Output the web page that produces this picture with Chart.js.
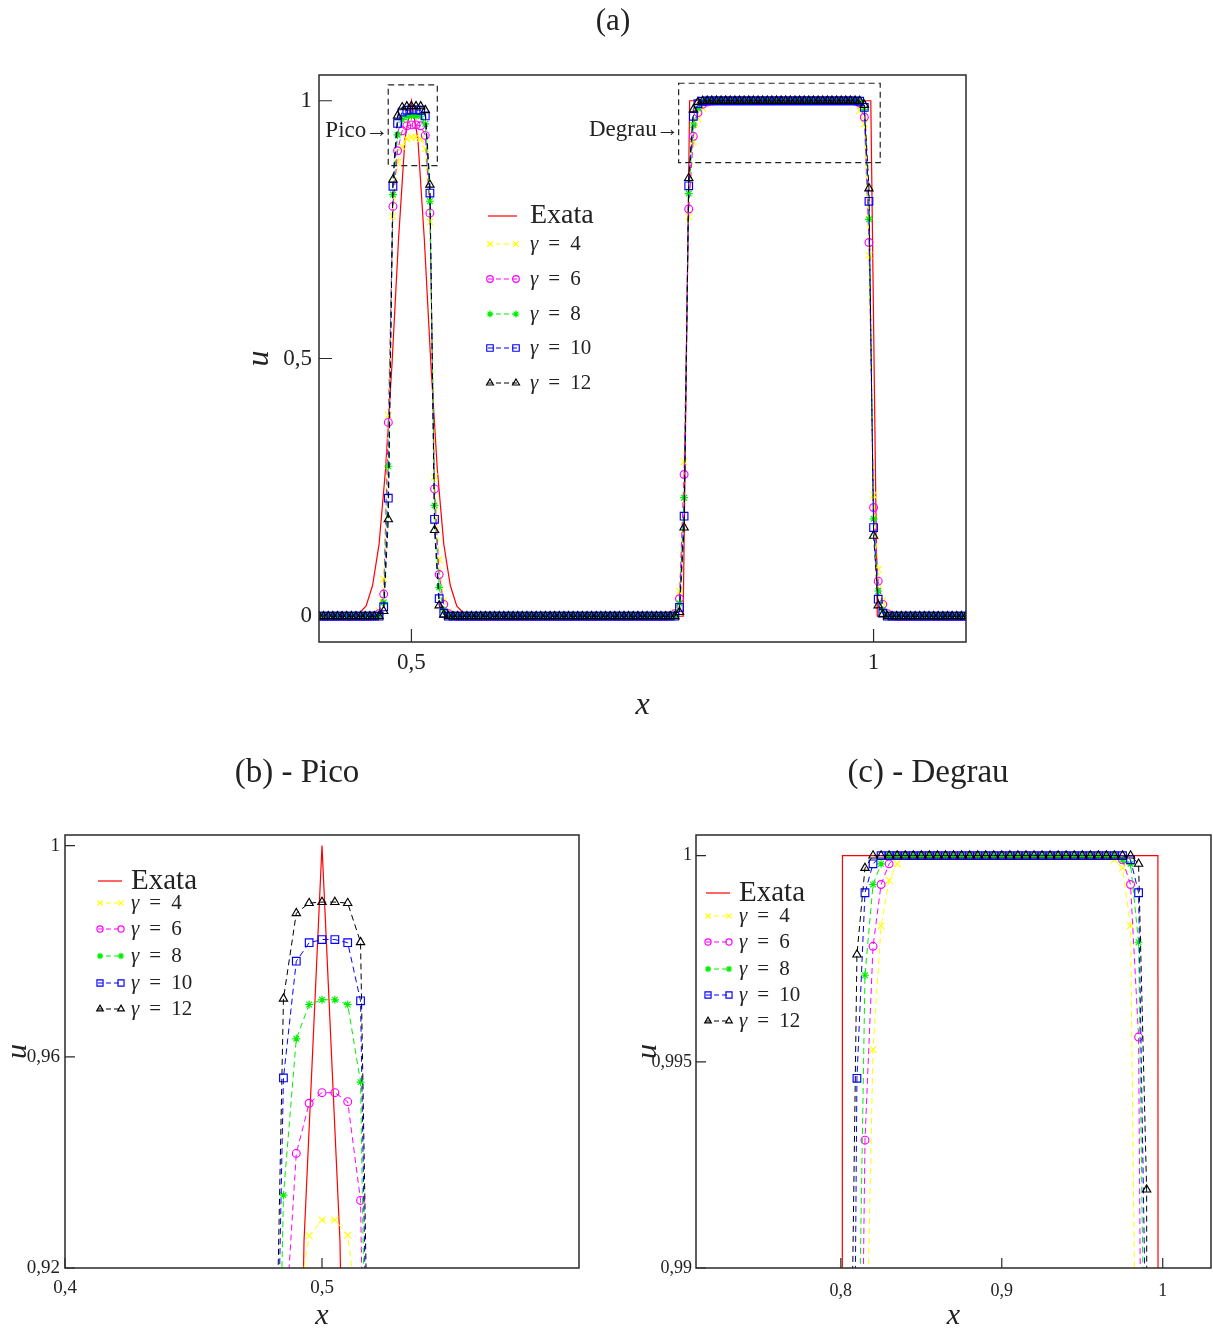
<!DOCTYPE html>
<html>
<head>
<meta charset="utf-8">
<title>Pico e Degrau</title>
<script src="https://cdn.jsdelivr.net/npm/chart.js@4.4.0/dist/chart.umd.min.js"></script>
<style>
  html, body { margin: 0; padding: 0; background: #ffffff; }
  body { width: 1213px; height: 1331px; position: relative; overflow: hidden; }
  canvas { position: absolute; }
</style>
</head>
<body>
<canvas id="chartA" width="1213" height="740" style="left:0px;top:0px"></canvas>
<canvas id="chartB" width="600" height="601" style="left:0px;top:730px"></canvas>
<canvas id="chartC" width="626" height="601" style="left:607px;top:730px"></canvas>
<script>
// ---------------- data ----------------
// numerical grid (dx = 0.005)
const gridX = [
  0.400, 0.405, 0.410, 0.415, 0.420, 0.425, 0.430, 0.435, 0.440, 0.445,
  0.450, 0.455, 0.460, 0.465, 0.470, 0.475, 0.480, 0.485, 0.490, 0.495,
  0.500, 0.505, 0.510, 0.515, 0.520, 0.525, 0.530, 0.535, 0.540, 0.545,
  0.550, 0.555, 0.560, 0.565, 0.570, 0.575, 0.580, 0.585, 0.590, 0.595,
  0.600, 0.605, 0.610, 0.615, 0.620, 0.625, 0.630, 0.635, 0.640, 0.645,
  0.650, 0.655, 0.660, 0.665, 0.670, 0.675, 0.680, 0.685, 0.690, 0.695,
  0.700, 0.705, 0.710, 0.715, 0.720, 0.725, 0.730, 0.735, 0.740, 0.745,
  0.750, 0.755, 0.760, 0.765, 0.770, 0.775, 0.780, 0.785, 0.790, 0.795,
  0.800, 0.805, 0.810, 0.815, 0.820, 0.825, 0.830, 0.835, 0.840, 0.845,
  0.850, 0.855, 0.860, 0.865, 0.870, 0.875, 0.880, 0.885, 0.890, 0.895,
  0.900, 0.905, 0.910, 0.915, 0.920, 0.925, 0.930, 0.935, 0.940, 0.945,
  0.950, 0.955, 0.960, 0.965, 0.970, 0.975, 0.980, 0.985, 0.990, 0.995,
  1.000, 1.005, 1.010, 1.015, 1.020, 1.025, 1.030, 1.035, 1.040, 1.045,
  1.050, 1.055, 1.060, 1.065, 1.070, 1.075, 1.080, 1.085, 1.090, 1.095,
  1.100
];

const gamma4 = [
  0, 0, 0, 0, 0, 0, 0, 0, 0, 0,
  0, 0, 0.002, 0.010, 0.072, 0.390, 0.776, 0.880, 0.911, 0.9261,
  0.9291, 0.9291, 0.9262, 0.907, 0.765, 0.270, 0.110, 0.030, 0.008, 0.002,
  0, 0, 0, 0, 0, 0, 0, 0, 0, 0,
  0, 0, 0, 0, 0, 0, 0, 0, 0, 0,
  0, 0, 0, 0, 0, 0, 0, 0, 0, 0,
  0, 0, 0, 0, 0, 0, 0, 0, 0, 0,
  0, 0, 0, 0, 0, 0, 0.002, 0.008, 0.049, 0.300,
  0.775, 0.920, 0.965, 0.986, 0.9953, 0.9983, 0.9994, 0.9998, 1, 1,
  1, 1, 1, 1, 1, 1, 1, 1, 1, 1,
  1, 1, 1, 1, 1, 1, 1, 1, 1, 1,
  1, 1, 1, 1, 0.9999, 0.9997, 0.9983, 0.981, 0.955, 0.700,
  0.235, 0.091, 0.030, 0.008, 0.002, 0, 0, 0, 0, 0,
  0, 0, 0, 0, 0, 0, 0, 0, 0, 0,
  0
];

const gamma6 = [
  0, 0, 0, 0, 0, 0, 0, 0, 0, 0,
  0, 0, 0.001, 0.005, 0.043, 0.376, 0.795, 0.903, 0.9417, 0.9512,
  0.9532, 0.9532, 0.9515, 0.9328, 0.782, 0.247, 0.081, 0.023, 0.005, 0.001,
  0, 0, 0, 0, 0, 0, 0, 0, 0, 0,
  0, 0, 0, 0, 0, 0, 0, 0, 0, 0,
  0, 0, 0, 0, 0, 0, 0, 0, 0, 0,
  0, 0, 0, 0, 0, 0, 0, 0, 0, 0,
  0, 0, 0, 0, 0, 0, 0.001, 0.005, 0.034, 0.275,
  0.790, 0.931, 0.977, 0.9931, 0.9978, 0.9993, 0.9998, 1, 1, 1,
  1, 1, 1, 1, 1, 1, 1, 1, 1, 1,
  1, 1, 1, 1, 1, 1, 1, 1, 1, 1,
  1, 1, 1, 1, 1, 0.9999, 0.9993, 0.9956, 0.968, 0.725,
  0.211, 0.068, 0.023, 0.005, 0.001, 0, 0, 0, 0, 0,
  0, 0, 0, 0, 0, 0, 0, 0, 0, 0,
  0
];

const gamma8 = [
  0, 0, 0, 0, 0, 0, 0, 0, 0, 0,
  0, 0, 0, 0.002, 0.027, 0.291, 0.818, 0.9338, 0.9634, 0.9699,
  0.9708, 0.9708, 0.9699, 0.9552, 0.805, 0.215, 0.056, 0.012, 0.002, 0,
  0, 0, 0, 0, 0, 0, 0, 0, 0, 0,
  0, 0, 0, 0, 0, 0, 0, 0, 0, 0,
  0, 0, 0, 0, 0, 0, 0, 0, 0, 0,
  0, 0, 0, 0, 0, 0, 0, 0, 0, 0,
  0, 0, 0, 0, 0, 0, 0, 0.002, 0.025, 0.230,
  0.820, 0.953, 0.985, 0.9971, 0.9993, 0.9998, 1, 1, 1, 1,
  1, 1, 1, 1, 1, 1, 1, 1, 1, 1,
  1, 1, 1, 1, 1, 1, 1, 1, 1, 1,
  1, 1, 1, 1, 1, 0.9999, 0.9998, 0.9979, 0.983, 0.770,
  0.189, 0.049, 0.012, 0.002, 0, 0, 0, 0, 0, 0,
  0, 0, 0, 0, 0, 0, 0, 0, 0, 0,
  0
];

const gamma10 = [
  0, 0, 0, 0, 0, 0, 0, 0, 0, 0,
  0, 0, 0, 0, 0.018, 0.229, 0.834, 0.956, 0.9781, 0.9816,
  0.9822, 0.9822, 0.9816, 0.9706, 0.821, 0.188, 0.034, 0.006, 0, 0,
  0, 0, 0, 0, 0, 0, 0, 0, 0, 0,
  0, 0, 0, 0, 0, 0, 0, 0, 0, 0,
  0, 0, 0, 0, 0, 0, 0, 0, 0, 0,
  0, 0, 0, 0, 0, 0, 0, 0, 0, 0,
  0, 0, 0, 0, 0, 0, 0, 0, 0.017, 0.194,
  0.835, 0.970, 0.9946, 0.9991, 0.9998, 1, 1, 1, 1, 1,
  1, 1, 1, 1, 1, 1, 1, 1, 1, 1,
  1, 1, 1, 1, 1, 1, 1, 1, 1, 1,
  1, 1, 1, 1, 1, 1, 0.9999, 0.9991, 0.987, 0.805,
  0.172, 0.033, 0.006, 0, 0, 0, 0, 0, 0, 0,
  0, 0, 0, 0, 0, 0, 0, 0, 0, 0,
  0
];

const gamma12 = [
  0, 0, 0, 0, 0, 0, 0, 0, 0, 0,
  0, 0, 0, 0, 0.010, 0.188, 0.847, 0.971, 0.9872, 0.9891,
  0.9893, 0.9893, 0.9891, 0.9817, 0.837, 0.167, 0.021, 0.003, 0, 0,
  0, 0, 0, 0, 0, 0, 0, 0, 0, 0,
  0, 0, 0, 0, 0, 0, 0, 0, 0, 0,
  0, 0, 0, 0, 0, 0, 0, 0, 0, 0,
  0, 0, 0, 0, 0, 0, 0, 0, 0, 0,
  0, 0, 0, 0, 0, 0, 0, 0, 0.008, 0.172,
  0.850, 0.983, 0.9976, 0.9997, 1, 1, 1, 1, 1, 1,
  1, 1, 1, 1, 1, 1, 1, 1, 1, 1,
  1, 1, 1, 1, 1, 1, 1, 1, 1, 1,
  1, 1, 1, 1, 1, 1, 1, 0.9998, 0.9919, 0.830,
  0.156, 0.021, 0.004, 0, 0, 0, 0, 0, 0, 0,
  0, 0, 0, 0, 0, 0, 0, 0, 0, 0,
  0
];

// exact solution, sampled on its own grid (dx = 0.007)
const exataX = [
  0.402, 0.409, 0.416, 0.423, 0.430, 0.437, 0.444, 0.451, 0.458, 0.465,
  0.472, 0.479, 0.486, 0.493, 0.500, 0.507, 0.514, 0.521, 0.528, 0.535,
  0.542, 0.549, 0.556, 0.563, 0.570, 0.577, 0.584, 0.591, 0.598, 0.605,
  0.612, 0.619, 0.626, 0.633, 0.640, 0.647, 0.654, 0.661, 0.668, 0.675,
  0.682, 0.689, 0.696, 0.703, 0.710, 0.717, 0.724, 0.731, 0.738, 0.745,
  0.752, 0.759, 0.766, 0.773, 0.780, 0.787, 0.794, 0.801, 0.808, 0.815,
  0.822, 0.829, 0.836, 0.843, 0.850, 0.857, 0.864, 0.871, 0.878, 0.885,
  0.892, 0.899, 0.906, 0.913, 0.920, 0.927, 0.934, 0.941, 0.948, 0.955,
  0.962, 0.969, 0.976, 0.983, 0.990, 0.997, 1.004, 1.011, 1.018, 1.025,
  1.032, 1.039, 1.046, 1.053, 1.060, 1.067, 1.074, 1.081, 1.088, 1.095
];
const exataU = [
  0, 0, 0, 0, 0, 0.002, 0.007, 0.020, 0.060, 0.140,
  0.285, 0.490, 0.730, 0.925, 1, 0.925, 0.730, 0.490, 0.285, 0.140,
  0.060, 0.020, 0.007, 0.002, 0, 0, 0, 0, 0, 0,
  0, 0, 0, 0, 0, 0, 0, 0, 0, 0,
  0, 0, 0, 0, 0, 0, 0, 0, 0, 0,
  0, 0, 0, 0, 0, 0, 0, 1, 1, 1,
  1, 1, 1, 1, 1, 1, 1, 1, 1, 1,
  1, 1, 1, 1, 1, 1, 1, 1, 1, 1,
  1, 1, 1, 1, 1, 1, 0, 0, 0, 0,
  0, 0, 0, 0, 0, 0, 0, 0, 0, 0
];

const seriesLabels = ['Exata', 'γ = 4', 'γ = 6', 'γ = 8', 'γ = 10', 'γ = 12'];

// axis ticks of each panel
const ticksAx = [0.5, 1];
const ticksAy = [0, 0.5, 1];
const ticksBx = [0.4, 0.5];
const ticksBy = [0.92, 0.96, 1];
const ticksCx = [0.8, 0.9, 1];
const ticksCy = [0.99, 0.995, 1];

// ---------------- drawing ----------------
const SERIF = "'Liberation Serif', 'Times New Roman', serif";
const INK = '#222222';
const fmt = v => String(v).replace('.', ',');
const xy = (xs, ys) => xs.map((x, i) => ({ x: x, y: ys[i] }));

function buildDatasets() {
  const dash = [6, 4];
  const numeric = (label, ys, color, style, radius, order) => ({
    label: label, data: xy(gridX, ys),
    borderColor: color, borderWidth: 1, borderDash: dash,
    pointStyle: style, pointRadius: radius, pointBorderColor: color,
    pointBackgroundColor: 'rgba(0,0,0,0)', pointBorderWidth: 1.15,
    tension: 0, order: order
  });
  return [
    { label: seriesLabels[0], data: xy(exataX, exataU), borderColor: '#ff0000',
      borderWidth: 1.2, pointRadius: 0, tension: 0, order: 6 },
    numeric(seriesLabels[1], gamma4, '#ffff00', 'crossRot', 4.8, 5),
    numeric(seriesLabels[2], gamma6, '#ff00ff', 'circle', 3.9, 4),
    numeric(seriesLabels[3], gamma8, '#00ee00', 'star', 4, 3),
    numeric(seriesLabels[4], gamma10, '#0000ff', 'rect', 5.4, 2),
    numeric(seriesLabels[5], gamma12, '#000000', 'triangle', 4.8, 1)
  ];
}

// closed frame plus inward tick marks
const frame = {
  id: 'frame',
  afterDatasetsDraw(chart, _args, o) {
    const { ctx, chartArea: a, scales: { x, y } } = chart;
    ctx.save();
    ctx.strokeStyle = '#2a2a2a';
    ctx.lineWidth = 1.5;
    ctx.strokeRect(a.left, a.top, a.right - a.left, a.bottom - a.top);
    ctx.lineWidth = 1.2;
    ctx.beginPath();
    x.ticks.forEach(t => {
      const px = x.getPixelForValue(t.value);
      ctx.moveTo(px, a.bottom); ctx.lineTo(px, a.bottom - o.tick);
    });
    y.ticks.forEach(t => {
      const py = y.getPixelForValue(t.value);
      ctx.moveTo(a.left, py); ctx.lineTo(a.left + o.tick, py);
    });
    ctx.stroke();
    ctx.restore();
  }
};

function markerAt(ctx, opt, px, py) {
  if (Chart.helpers && Chart.helpers.drawPoint) {
    Chart.helpers.drawPoint(ctx, opt, px, py);
    return;
  }
  ctx.beginPath();
  ctx.arc(px, py, opt.radius, 0, Math.PI * 2);
  ctx.stroke();
}

// legend: line sample with a marker at each end, then the label
const keyBox = {
  id: 'keyBox',
  afterDraw(chart, _args, o) {
    const ctx = chart.ctx;
    chart.data.datasets.forEach((ds, i) => {
      const y = o.rows[i];
      ctx.save();
      ctx.strokeStyle = ds.borderColor;
      ctx.lineWidth = ds.borderWidth;
      ctx.setLineDash(ds.borderDash ? [5, 3] : []);
      ctx.beginPath();
      ctx.moveTo(o.x0, y); ctx.lineTo(o.x1, y);
      ctx.stroke();
      ctx.setLineDash([]);
      if (ds.pointRadius) {
        const opt = { pointStyle: ds.pointStyle, radius: ds.pointRadius * o.markerScale,
                      borderWidth: ds.pointBorderWidth, rotation: 0 };
        ctx.fillStyle = 'rgba(0,0,0,0)';
        ctx.strokeStyle = ds.pointBorderColor;
        ctx.lineWidth = ds.pointBorderWidth;
        markerAt(ctx, opt, o.x0 + 2, y);
        markerAt(ctx, opt, o.x1 - 1, y);
      }
      ctx.fillStyle = INK;
      ctx.textBaseline = 'middle';
      ctx.textAlign = 'left';
      const size = i === 0 ? o.mainSize : o.subSize;
      let tx = o.textX;
      const parts = ds.label.split(' ');
      if (parts.length === 3) {
        // symbol, relation and value set apart like typeset mathematics
        const gap = size * 0.48;
        ctx.font = 'italic ' + size + 'px ' + SERIF;
        ctx.fillText(parts[0], tx, y);
        tx += ctx.measureText(parts[0]).width + gap;
        ctx.font = size + 'px ' + SERIF;
        ctx.fillText(parts[1], tx, y);
        tx += ctx.measureText(parts[1]).width + gap;
        ctx.fillText(parts[2], tx, y);
      } else {
        ctx.font = size + 'px ' + SERIF;
        ctx.fillText(ds.label, tx, y);
      }
      ctx.restore();
    });
  }
};

// dashed boxes marking the enlarged regions, each named with an arrow
const zoomMarks = {
  id: 'zoomMarks',
  afterDatasetsDraw(chart, _args, o) {
    if (!o || !o.boxes) return;
    const { ctx, scales: { x, y } } = chart;
    ctx.save();
    o.boxes.forEach(b => {
      const l = x.getPixelForValue(b.x0), r = x.getPixelForValue(b.x1);
      const t = y.getPixelForValue(b.y1), bt = y.getPixelForValue(b.y0);
      ctx.strokeStyle = INK;
      ctx.lineWidth = 1.2;
      ctx.setLineDash([6, 4]);
      ctx.strokeRect(l, t, r - l, bt - t);
      ctx.setLineDash([]);
      const ly = y.getPixelForValue(b.labelY);
      ctx.fillStyle = INK;
      ctx.textBaseline = 'middle';
      ctx.font = o.fontSize + 'px ' + SERIF;
      ctx.textAlign = 'right';
      ctx.fillText(b.text, l - 22, ly);
      ctx.font = o.arrowSize + 'px ' + SERIF;
      ctx.textAlign = 'center';
      ctx.fillText('→', l - 11.5, ly);
    });
    ctx.restore();
  }
};

function panelScales(p) {
  return {
    x: {
      type: 'linear', min: p.xRange[0], max: p.xRange[1],
      afterBuildTicks: s => { s.ticks = p.xTicks.map(v => ({ value: v })); },
      afterFit: s => { s.height = p.xBand; },
      grid: { display: false, drawTicks: false }, border: { display: false },
      ticks: { callback: fmt, autoSkip: false, maxRotation: 0, padding: p.xPad,
               color: INK, font: { family: SERIF, size: p.tickSize } },
      title: { display: true, text: 'x', color: INK, padding: 0,
               font: { family: SERIF, size: p.labelSize, style: 'italic', lineHeight: 1 } }
    },
    y: {
      type: 'linear', min: p.yRange[0], max: p.yRange[1],
      afterBuildTicks: s => { s.ticks = p.yTicks.map(v => ({ value: v })); },
      afterFit: s => { s.width = p.yBand; },
      grid: { display: false, drawTicks: false }, border: { display: false },
      ticks: { callback: fmt, autoSkip: false, padding: p.yPad,
               color: INK, font: { family: SERIF, size: p.tickSize } },
      title: { display: true, text: 'u', color: INK, padding: { top: p.uShift, bottom: 0 },
               font: { family: SERIF, size: p.labelSize, style: 'italic', lineHeight: 1 } }
    }
  };
}

function makePanel(id, p) {
  return new Chart(document.getElementById(id), {
    type: 'line',
    data: { datasets: buildDatasets() },
    options: {
      responsive: false, animation: false, events: [],
      layout: { padding: p.padding },
      scales: panelScales(p),
      plugins: {
        legend: { display: false },
        tooltip: { enabled: false },
        title: { display: true, text: p.title, color: INK,
                 font: { family: SERIF, size: p.titleSize, weight: 'normal', lineHeight: 1.2 },
                 padding: p.titlePad },
        frame: { tick: p.tickLen },
        keyBox: p.key,
        zoomMarks: p.marks || {}
      }
    },
    plugins: [frame, zoomMarks, keyBox]
  });
}

makePanel('chartA', {
  title: '(a)', titleSize: 31, titlePad: { top: 3.4, bottom: 34.4 },
  padding: { left: 260, right: 247, top: 0, bottom: 18 },
  xRange: [0.4, 1.1], yRange: [-0.05, 1.05], xTicks: ticksAx, yTicks: ticksAy,
  xBand: 80, yBand: 59, uShift: -16, xPad: 7, yPad: 7, tickSize: 23, labelSize: 32, tickLen: 13,
  key: { x0: 488, x1: 517, textX: 530, rows: [216, 244, 279, 314, 348, 383],
         mainSize: 28, subSize: 21, markerScale: 0.85 },
  marks: { fontSize: 23, arrowSize: 23, boxes: [
    { x0: 0.4749, x1: 0.528, y0: 0.874, y1: 1.031, labelY: 0.942, text: 'Pico' },
    { x0: 0.7891, x1: 1.0072, y0: 0.880, y1: 1.034, labelY: 0.944, text: 'Degrau' }
  ] }
});

makePanel('chartB', {
  title: '(b) - Pico', titleSize: 33, titlePad: { top: 23.2, bottom: 42.2 },
  padding: { left: 15, right: 21, top: 0, bottom: 0 },
  xRange: [0.4, 0.6], yRange: [0.92, 1.002], xTicks: ticksBx, yTicks: ticksBy,
  xBand: 63, yBand: 50, uShift: -12, xPad: 8.6, yPad: 5, tickSize: 19, labelSize: 30, tickLen: 10,
  key: { x0: 98, x1: 122, textX: 131, rows: [151, 173, 199, 226, 253, 279],
         mainSize: 29, subSize: 21, markerScale: 0.8 }
});

makePanel('chartC', {
  title: '(c) - Degrau', titleSize: 33, titlePad: { top: 23.2, bottom: 42.2 },
  padding: { left: 38, right: 22, top: 0, bottom: 0 },
  xRange: [0.71, 1.03], yRange: [0.99, 1.0005], xTicks: ticksCx, yTicks: ticksCy,
  xBand: 63, yBand: 51, uShift: -12, xPad: 12.8, yPad: 4, tickSize: 18, labelSize: 30, tickLen: 10,
  key: { x0: 99, x1: 123, textX: 132, rows: [163, 186, 212, 239, 265, 291],
         mainSize: 29, subSize: 21, markerScale: 0.8 }
});
</script>
</body>
</html>
